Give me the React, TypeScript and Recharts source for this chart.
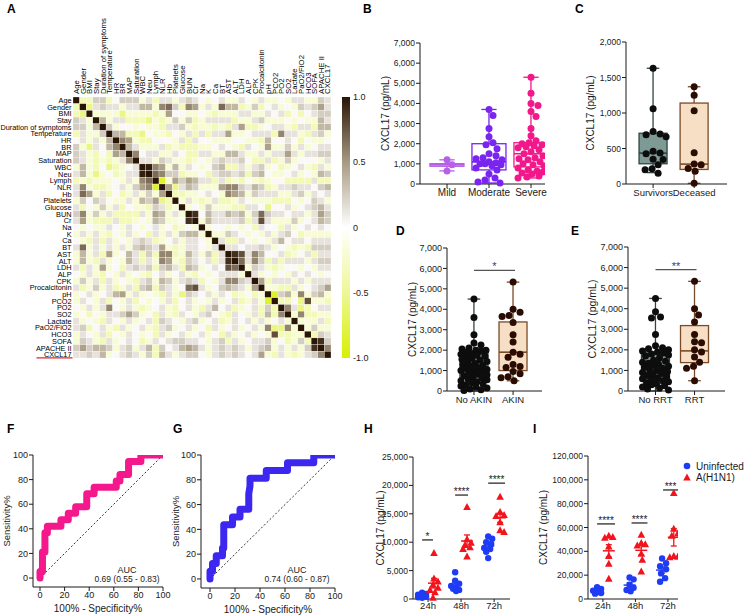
import React from "react";
import {
  ComposedChart,
  ScatterChart,
  BarChart,
  Bar,
  Scatter,
  Line,
  XAxis,
  YAxis,
  ReferenceLine,
  ErrorBar,
  Label,
} from "recharts";

const FONT = "'Liberation Sans', Arial, Helvetica, sans-serif";
const INK = "#1a1a1a";

// ---------- A: correlation heatmap ----------
const HEAT_VARS = [
  "Age", "Gender", "BMI", "Stay", "Duration of symptoms", "Temperature", "HR", "BR", "MAP",
  "Saturation", "WBC", "Neu", "Lymph", "NLR", "Hb", "Platelets", "Glucose", "BUN", "Cr", "Na",
  "K", "Ca", "BT", "AST", "ALT", "LDH", "ALP", "CPK", "Procalcitonin", "pH", "PCO2", "PO2",
  "SO2", "Lactate", "PaO2/FiO2", "HCO3", "SOFA", "APACHE II", "CXCL17",
];
// lower triangle, row i = correlation with columns 0..i-1
// Y strong neg, y neg, l weak neg, p faint neg, 0..9 positive steps
const HEAT_LOWER = [
  "",
  "l",
  "ly",
  "21p",
  "22p3",
  "l1pp2",
  "01p1p3",
  "2py1035",
  "21pl0l43",
  "21plplp15",
  "p3pl0ylp01",
  "13pyp0lp119",
  "lplppp0p1p56",
  "15pllp01p245Y",
  "164p1l0lp1p2p4",
  "p20210pp1p324yl",
  "1l0p2p1l0ppl21lp",
  "25p2p1llll1p43p1p",
  "14plll1llp0p32pp08",
  "0p0pp10p10p01p0lp0p",
  "p1p1pl0p1p0l1p1p233p",
  "0pl1l1p0p121lp01p110p",
  "16p1p1p1p23214plp110p1",
  "p3p1l4p031l2l55lp31p2l1",
  "p3pl1p0p31l1p54pl2101l18",
  "1l1p4p0l1212l231l32p01076",
  "0p1pl0p1p0pl01p01pl0p0111p",
  "p2p1l1p0pl12p32p121l0p15521",
  "1lp2p1lp1l23l21p0671p02321p4",
  "p01p0134p1p0pl1py2101p10lp0lp",
  "p10p1l0p1l0p0p1l01p0p1p01lp1pY",
  "0p1p150p1plp01pl01pl1301lp01l2l",
  "p0l0p11242p0l1pl10p120pl10p1l3l5",
  "1p0pl10p1p01l210p12p01lp101p1p01p",
  "12l01pl1p01pl12p01p0l1p01p01p5yy5p",
  "p10p1l0p10p0l1p01p01p0l1p01p0p7llpp",
  "p21pl1p010lp10122110p12l1p0112p0lp2l",
  "242332p12p13l2013431p12121p123p1p1p28",
  "11213p0121p2l31p1220p12121014pl1plp125",
];
const LEVEL: Record<string, number> = {
  Y: -0.85, y: -0.55, l: -0.35, p: -0.2,
  "0": 0.03, "1": 0.14, "2": 0.25, "3": 0.36, "4": 0.47, "5": 0.58, "6": 0.68, "7": 0.78, "8": 0.9, "9": 0.96,
};
const CB_TICKS = [-1, -0.5, 0, 0.5, 1];

// ---------- B-E: box plots ----------
const B_CATS = ["Mild", "Moderate", "Severe"];
const B_MILD = [1200, 950, 650];
const B_MODERATE = [3700, 3400, 2750, 2350, 2050, 1950, 1750, 1500, 1400, 1300, 1250, 1200, 1100, 1050, 1000, 1000, 950, 900, 800, 700, 500, 300, 200, 100, 50];
const B_SEVERE = [5300, 4500, 4000, 3900, 3600, 3350, 2750, 2400, 2150, 2050, 2000, 1950, 1900, 1850, 1800, 1700, 1600, 1500, 1400, 1300, 1250, 1200, 1100, 1000, 950, 900, 800, 700, 650, 600, 550, 500, 400, 350, 300];
// min, q1, median, q3, max
const B_BOX = [
  [650, 880, 950, 1010, 1200],
  [50, 700, 1100, 2000, 3700],
  [300, 850, 1500, 2050, 5300],
];

const C_CATS = ["Survivors", "Deceased"];
const C_SURVIVORS = [1630, 1060, 740, 705, 695, 665, 460, 435, 425, 350, 345, 270, 215, 200, 150];
const C_DECEASED = [1370, 1250, 1030, 440, 280, 270, 220, 180, 10];
const C_BOX = [
  [160, 285, 435, 715, 1630],
  [10, 205, 280, 1140, 1370],
];

const D_CATS = ["No AKIN", "AKIN"];
const D_NO_AKIN = [4500, 3600, 2750, 2350, 2250, 2100, 2050, 2000, 2000, 1950, 1900, 1850, 1800, 1750, 1700, 1650, 1600, 1550, 1500, 1450, 1400, 1350, 1300, 1250, 1200, 1150, 1100, 1050, 1000, 980, 950, 900, 850, 800, 750, 700, 650, 600, 550, 500, 450, 400, 350, 300, 250, 200, 150, 100, 60, 20];
const D_AKIN = [5330, 4000, 3850, 3700, 3650, 3350, 2750, 2400, 1900, 1800, 1650, 1300, 1200, 1150, 950, 850, 700, 650, 500];
const D_BOX = [
  [0, 650, 1150, 1850, 4500],
  [500, 1000, 1900, 3380, 5330],
];

const E_CATS = ["No RRT", "RRT"];
const E_NO_RRT = [4500, 3850, 3600, 3550, 2750, 2200, 2100, 2050, 2000, 1950, 1900, 1850, 1800, 1750, 1700, 1600, 1500, 1450, 1400, 1350, 1300, 1250, 1200, 1150, 1100, 1050, 1000, 950, 900, 850, 800, 750, 700, 650, 600, 550, 500, 450, 400, 350, 300, 250, 200, 150, 100, 50];
const E_RRT = [5330, 4000, 3700, 3350, 2750, 2400, 2350, 2000, 1900, 1650, 1400, 1200, 1100, 500];
const E_BOX = [
  [0, 530, 1150, 1850, 4500],
  [500, 1380, 1950, 3180, 5330],
];

const Y7000 = [0, 1000, 2000, 3000, 4000, 5000, 6000, 7000];
const Y2000 = [0, 500, 1000, 1500, 2000];

// ---------- F, G: ROC ----------
const F_FPR = [0, 0, 2, 2, 2, 2, 4, 4, 4, 4, 6, 6, 17, 17, 23, 23, 29, 29, 38, 38, 38, 44, 44, 62, 62, 65, 65, 72, 72, 72, 82, 82, 100];
const F_TPR = [0, 5.3, 5.3, 10.5, 15.8, 21.1, 21.1, 26.3, 31.6, 36.8, 36.8, 42.1, 42.1, 47.4, 47.4, 52.6, 52.6, 57.9, 57.9, 63.2, 68.4, 68.4, 73.7, 73.7, 78.9, 78.9, 84.2, 84.2, 89.5, 94.7, 94.7, 100, 100];
const G_FPR = [0, 0, 2, 2, 5, 5, 10, 10, 11, 11, 11, 11, 18, 18, 24, 24, 31, 31, 31, 32, 32, 45, 45, 62, 62, 83, 83, 100];
const G_TPR = [0, 6.25, 6.25, 12.5, 12.5, 18.75, 18.75, 25, 25, 31.25, 37.5, 43.75, 43.75, 50, 50, 56.25, 56.25, 62.5, 68.75, 75, 81.25, 81.25, 87.5, 87.5, 93.75, 93.75, 100, 100];
const ROC_TICKS = [0, 20, 40, 60, 80, 100];

// ---------- H, I: time course ----------
const TIME_LABELS = ["24h", "48h", "72h"];
const H_UNINFECTED = [
  [1100, 900, 750, 600, 500, 400, 300, 200],
  [4700, 3200, 2700, 2300, 2000, 1800, 1600, 1400],
  [11000, 10600, 10000, 9700, 9000, 8800, 8300, 7200],
];
const H_H1N1 = [
  [8100, 3600, 3100, 2500, 2000, 1600, 1200, 200],
  [16200, 10500, 9900, 9500, 9100, 8800, 7500],
  [18000, 15300, 14800, 14600, 13500, 12100, 11800],
];
const I_UNINFECTED = [
  [10000, 8500, 7000, 6000, 5000, 4500],
  [18000, 16500, 12000, 9500, 7500, 6500],
  [34000, 30000, 27500, 25000, 21500, 17500, 14500],
];
const I_H1N1 = [
  [53000, 52000, 51500, 44000, 36000, 29500, 17000],
  [54000, 47000, 46000, 45000, 38000, 33000, 23000],
  [89000, 59000, 55000, 53000, 36000, 35500, 35000],
];
const H_TICKS = [0, 5000, 10000, 15000, 20000, 25000];
const I_TICKS = [0, 20000, 40000, 60000, 80000, 100000, 120000];
const H_SIG = [
  { a: -0.18, b: 0.15, y: 10400, text: "*" },
  { a: 0.82, b: 1.21, y: 18300, text: "****" },
  { a: 1.82, b: 2.33, y: 20400, text: "****" },
];
const I_SIG = [
  { a: -0.18, b: 0.37, y: 63000, text: "****" },
  { a: 0.88, b: 1.37, y: 63800, text: "****" },
  { a: 1.85, b: 2.31, y: 91500, text: "***" },
];

// ---------- helpers ----------
const fmt = (v: number) => v.toLocaleString("en-US");

const CORR_STOPS: [number, number[]][] = [
  [-1, [214, 241, 0]],
  [-0.5, [238, 247, 150]],
  [0, [255, 255, 255]],
  [0.5, [168, 155, 130]],
  [1, [42, 20, 4]],
];
function corrColor(v: number) {
  for (let i = 0; i < CORR_STOPS.length - 1; i++) {
    const [a, ca] = CORR_STOPS[i];
    const [b, cb] = CORR_STOPS[i + 1];
    if (v <= b || i === CORR_STOPS.length - 2) {
      const t = Math.max(0, Math.min(1, (v - a) / (b - a)));
      const c = ca.map((x, k) => Math.round(x + (cb[k] - x) * t));
      return `rgb(${c[0]},${c[1]},${c[2]})`;
    }
  }
  return "#fff";
}

// beeswarm-style horizontal placement, returns offsets in axis units
function swarm(values: number[], pxV: number, pxP: number, d: number, maxHalf: number) {
  const order = values.map((_, i) => i).sort((a, b) => values[b] - values[a]);
  const placed: { x: number; y: number }[] = [];
  const offs = new Array(values.length).fill(0);
  const cands = [0];
  for (let k = 1; k <= maxHalf; k++) cands.push(k, -k);
  for (const i of order) {
    const y = values[i] * pxV;
    let best = 0;
    let bestScore = -1;
    for (const c of cands) {
      let minD = Infinity;
      for (const p of placed) minD = Math.min(minD, Math.hypot(p.x - c, p.y - y));
      if (minD >= d) {
        best = c;
        break;
      }
      if (minD > bestScore) {
        bestScore = minD;
        best = c;
      }
    }
    placed.push({ x: best, y });
    offs[i] = best / pxP;
  }
  return offs;
}

const mean = (a: number[]) => a.reduce((s, v) => s + v, 0) / a.length;
const sem = (a: number[]) => {
  const m = mean(a);
  const sd = Math.sqrt(a.reduce((s, v) => s + (v - m) ** 2, 0) / (a.length - 1));
  return sd / Math.sqrt(a.length);
};

// ---------- heatmap ----------
const NV = HEAT_VARS.length;
const HEAT_W = 258;
const HEAT_H = 261;
const CW = HEAT_W / NV;
const CH = HEAT_H / NV;
const IDX = HEAT_VARS.map((_, i) => i);

const heatCells = (() => {
  const m = HEAT_VARS.map(() => HEAT_VARS.map(() => 0));
  for (let i = 0; i < NV; i++) {
    m[i][i] = 1;
    const row = HEAT_LOWER[i] || "";
    for (let j = 0; j < i; j++) {
      const v = LEVEL[row[j]] ?? 0;
      m[i][j] = v;
      m[j][i] = v;
    }
  }
  const cells: { c: number; r: number; v: number }[] = [];
  for (let r = 0; r < NV; r++) for (let c = 0; c < NV; c++) cells.push({ c, r, v: m[r][c] });
  return cells;
})();

const HeatCell = (p: any) => {
  const v = p.payload?.v ?? p.v ?? 0;
  return (
    <rect
      x={p.cx - CW / 2}
      y={p.cy - CH / 2}
      width={CW}
      height={CH}
      fill={corrColor(v)}
      stroke="#ffffff"
      strokeWidth={0.25}
    />
  );
};

const ColTick = (p: any) => (
  <g transform={`translate(${p.x},${p.y})`}>
    <text transform="rotate(-90)" dy="0.35em" fontSize={7.8} fill="#000" stroke="none" textAnchor="start">
      {HEAT_VARS[p.payload.value]}
    </text>
  </g>
);

const RowTick = (p: any) => (
  <g>
    <text x={p.x} y={p.y} dy="0.35em" fontSize={7.3} fill="#000" stroke="none" textAnchor="end">
      {HEAT_VARS[p.payload.value]}
    </text>
    {p.payload.value === NV - 1 && (
      <line x1={p.x - 35} x2={p.x + 1} y1={p.y + 3.3} y2={p.y + 3.3} stroke="#e8222a" strokeWidth={1.3} />
    )}
  </g>
);

function Heatmap() {
  return (
    <div style={{ position: "absolute", left: 0, top: 0 }}>
      <ScatterChart width={73 + HEAT_W + 4} height={97 + HEAT_H + 6} margin={{ top: 0, right: 4, bottom: 6, left: 0 }}>
        <XAxis
          type="number"
          dataKey="c"
          orientation="top"
          domain={[-0.5, NV - 0.5]}
          ticks={IDX}
          interval={0}
          height={97}
          axisLine={false}
          tickLine={false}
          tickSize={0}
          tickMargin={3}
          tick={(p: any) => <ColTick {...p} />}
        />
        <YAxis
          type="number"
          dataKey="r"
          domain={[-0.5, NV - 0.5]}
          reversed
          ticks={IDX}
          interval={0}
          width={73}
          axisLine={false}
          tickLine={false}
          tickSize={0}
          tickMargin={1.5}
          tick={(p: any) => <RowTick {...p} />}
        />
        <Scatter data={heatCells} shape={HeatCell} isAnimationActive={false} />
      </ScatterChart>
    </div>
  );
}

function ColorBar() {
  const stops = [1, 0.5, 0, -0.5, -1];
  return (
    <div style={{ position: "absolute", left: 342, top: 90 }}>
      <BarChart width={38} height={275} data={[{ k: "cb", r: [-1, 1] }]} margin={{ top: 7, right: 0, bottom: 7, left: 0 }} barCategoryGap={0}>
        <defs>
          <linearGradient id="cbGrad" x1="0" y1="0" x2="0" y2="1">
            {stops.map((v, i) => (
              <stop key={i} offset={`${(i / (stops.length - 1)) * 100}%`} stopColor={corrColor(v)} />
            ))}
          </linearGradient>
        </defs>
        <XAxis dataKey="k" hide />
        <YAxis
          orientation="right"
          type="number"
          domain={[-1, 1]}
          ticks={CB_TICKS}
          interval={0}
          width={30}
          axisLine={false}
          tickLine={false}
          tickSize={0}
          tickMargin={3}
          tick={{ fontSize: 9, fill: INK }}
          tickFormatter={(v: number) => (v === 0 ? "0" : v.toFixed(1))}
        />
        <Bar dataKey="r" fill="url(#cbGrad)" isAnimationActive={false} />
      </BarChart>
    </div>
  );
}

// ---------- box panels ----------
type BoxGroup = { values: number[]; box: number[]; fill: string; stroke: string; dot: string };

const BoxShape = (props: any) => {
  const { x, y, width, height } = props;
  const g = props.payload ?? props;
  const [lo, q1, med, q3, hi] = g.box;
  if (!(height > 0)) return <g />;
  const k = height / (hi - lo);
  const yv = (v: number) => y + (hi - v) * k;
  const cx = x + (width || 0) / 2;
  const half = g.boxW / 2;
  const cap = g.boxW * 0.45;
  return (
    <g>
      <line x1={cx} x2={cx} y1={yv(hi)} y2={yv(lo)} stroke={g.stroke} strokeWidth={1.3} />
      <line x1={cx - cap / 2} x2={cx + cap / 2} y1={yv(hi)} y2={yv(hi)} stroke={g.stroke} strokeWidth={1.3} />
      <line x1={cx - cap / 2} x2={cx + cap / 2} y1={yv(lo)} y2={yv(lo)} stroke={g.stroke} strokeWidth={1.3} />
      <rect x={cx - half} y={yv(q3)} width={g.boxW} height={Math.max(1, yv(q1) - yv(q3))} fill={g.fill} stroke={g.stroke} strokeWidth={1.3} />
      <line x1={cx - half} x2={cx + half} y1={yv(med)} y2={yv(med)} stroke={g.stroke} strokeWidth={1.6} />
    </g>
  );
};

function BoxPanel(props: {
  left: number; top: number; yAxisW: number; marginTop: number; plotW: number; plotH: number;
  xDom: [number, number]; yMax: number; yTicks: number[]; cats: string[]; groups: BoxGroup[];
  boxW: number; labelOffset: number; tickFont: number; catFont: number; titleFont: number;
  sig?: { a: number; b: number; y: number; text: string };
}) {
  const { left, top, yAxisW, marginTop, plotW, plotH, xDom, yMax, yTicks, cats, groups } = props;
  const pxV = plotH / yMax;
  const pxP = plotW / (xDom[1] - xDom[0]);
  const rows = groups.map((g, i) => ({
    pos: i, range: [g.box[0], g.box[4]], box: g.box, fill: g.fill, stroke: g.stroke, boxW: props.boxW,
  }));
  const pts = groups.map((g, i) => {
    const offs = swarm(g.values, pxV, pxP, 7, 13);
    return g.values.map((v, k) => ({ pos: i + offs[k], val: v }));
  });
  return (
    <div style={{ position: "absolute", left, top }}>
      <ComposedChart
        width={yAxisW + plotW + 5}
        height={marginTop + plotH + 20}
        data={rows}
        margin={{ top: marginTop, right: 5, bottom: 0, left: 0 }}
      >
        <XAxis
          type="number"
          dataKey="pos"
          domain={xDom}
          allowDataOverflow
          ticks={cats.map((_, i) => i)}
          interval={0}
          tickFormatter={(v: number) => cats[v] ?? ""}
          height={20}
          tickSize={4}
          tickMargin={1}
          stroke={INK}
          tick={{ fontSize: props.catFont, fill: INK }}
        />
        <YAxis
          type="number"
          dataKey="val"
          domain={[0, yMax]}
          ticks={yTicks}
          interval={0}
          tickFormatter={fmt}
          width={yAxisW}
          tickSize={4}
          tickMargin={1}
          stroke={INK}
          tick={{ fontSize: props.tickFont, fill: INK }}
        >
          <Label
            value="CXCL17 (pg/mL)"
            angle={-90}
            position="insideLeft"
            offset={props.labelOffset}
            style={{ textAnchor: "middle", fontSize: props.titleFont, fill: INK }}
          />
        </YAxis>
        <Bar dataKey="range" barSize={props.boxW} shape={BoxShape} isAnimationActive={false} />
        {groups.map((g, i) => (
          <Scatter
            key={i}
            data={pts[i]}
            isAnimationActive={false}
            shape={(p: any) => <circle cx={p.cx} cy={p.cy} r={3.5} fill={g.dot} />}
          />
        ))}
        {props.sig && (
          <ReferenceLine
            segment={[{ x: props.sig.a, y: props.sig.y }, { x: props.sig.b, y: props.sig.y }]}
            stroke="#555"
            strokeWidth={1.2}
            ifOverflow="visible"
            label={{ value: props.sig.text, position: "top", offset: 0, fontSize: 11, fill: "#444" }}
          />
        )}
      </ComposedChart>
    </div>
  );
}

// ---------- ROC panels ----------
function RocPanel(props: {
  left: number; top: number; plotW: number; plotH: number; xDom: [number, number]; yDom: [number, number];
  fpr: number[]; tpr: number[]; color: string; labelOffset: number;
}) {
  const data = props.fpr.map((x, i) => ({ fpr: x, tpr: props.tpr[i] }));
  const diag = [{ fpr: 0, tpr: 0 }, { fpr: 100, tpr: 100 }];
  return (
    <div style={{ position: "absolute", left: props.left, top: props.top }}>
      <ComposedChart width={33 + props.plotW + 12} height={10 + props.plotH + 28} margin={{ top: 10, right: 12, bottom: 0, left: 0 }}>
        <XAxis
          type="number"
          dataKey="fpr"
          domain={props.xDom}
          allowDataOverflow
          ticks={ROC_TICKS}
          interval={0}
          height={28}
          tickSize={4}
          tickMargin={1}
          stroke={INK}
          tick={{ fontSize: 9, fill: INK }}
        >
          <Label value="100% - Specificity%" position="insideBottom" offset={3} style={{ fontSize: 10, fill: INK }} />
        </XAxis>
        <YAxis
          type="number"
          domain={props.yDom}
          allowDataOverflow
          ticks={ROC_TICKS}
          interval={0}
          width={33}
          tickSize={4}
          tickMargin={1}
          stroke={INK}
          tick={{ fontSize: 9, fill: INK }}
        >
          <Label
            value="Sensitivity%"
            angle={-90}
            position="insideLeft"
            offset={props.labelOffset}
            style={{ textAnchor: "middle", fontSize: 9.5, fill: INK }}
          />
        </YAxis>
        <Line data={diag} dataKey="tpr" stroke="#333" strokeWidth={1} strokeDasharray="2 2" dot={false} isAnimationActive={false} />
        <Line
          data={data}
          dataKey="tpr"
          stroke={props.color}
          strokeWidth={7}
          strokeLinecap="round"
          strokeLinejoin="round"
          dot={false}
          isAnimationActive={false}
        />
      </ComposedChart>
    </div>
  );
}

// ---------- time course panels ----------
const BLUE = "#1f3cf5";
const RED = "#f2141c";
const GROUP_OFF = 0.18;

const Tri = (p: any) => (
  <polygon points={`${p.cx},${p.cy - 4} ${p.cx - 3.8},${p.cy + 3} ${p.cx + 3.8},${p.cy + 3}`} fill={RED} />
);
const meanLine = (color: string) => (p: any) => (
  <line x1={p.cx - 6} x2={p.cx + 6} y1={p.cy} y2={p.cy} stroke={color} strokeWidth={1.5} />
);

function TimePanel(props: {
  left: number; top: number; marginTop: number; plotW: number; plotH: number; xDom: [number, number];
  yMax: number; yTicks: number[]; uninf: number[][]; h1n1: number[][];
  sigs: { a: number; b: number; y: number; text: string }[]; labelOffset: number;
}) {
  const yAxisW = 68;
  const pxV = props.plotH / props.yMax;
  const pxP = props.plotW / (props.xDom[1] - props.xDom[0]);
  const bluePts: any[] = [];
  const redPts: any[] = [];
  const blueMean: any[] = [];
  const redMean: any[] = [];
  props.uninf.forEach((vals, i) => {
    const offs = swarm(vals, pxV, pxP, 6, 4);
    vals.forEach((v, k) => bluePts.push({ pos: i - GROUP_OFF + offs[k], val: v }));
    blueMean.push({ pos: i - GROUP_OFF, val: mean(vals), sem: sem(vals) });
  });
  props.h1n1.forEach((vals, i) => {
    const offs = swarm(vals, pxV, pxP, 6, 4);
    vals.forEach((v, k) => redPts.push({ pos: i + GROUP_OFF + offs[k], val: v }));
    redMean.push({ pos: i + GROUP_OFF, val: mean(vals), sem: sem(vals) });
  });
  return (
    <div style={{ position: "absolute", left: props.left, top: props.top }}>
      <ComposedChart
        width={yAxisW + props.plotW + 5}
        height={props.marginTop + props.plotH + 16}
        margin={{ top: props.marginTop, right: 5, bottom: 0, left: 0 }}
      >
        <XAxis
          type="number"
          dataKey="pos"
          domain={props.xDom}
          allowDataOverflow
          ticks={[0, 1, 2]}
          interval={0}
          tickFormatter={(v: number) => TIME_LABELS[v] ?? ""}
          height={16}
          tickSize={3}
          tickMargin={0}
          stroke={INK}
          tick={{ fontSize: 9.5, fill: INK }}
        />
        <YAxis
          type="number"
          dataKey="val"
          domain={[0, props.yMax]}
          ticks={props.yTicks}
          interval={0}
          tickFormatter={fmt}
          width={yAxisW}
          tickSize={4}
          tickMargin={1}
          stroke={INK}
          tick={{ fontSize: 8.5, fill: INK }}
        >
          <Label
            value="CXCL17 (pg/mL)"
            angle={-90}
            position="insideLeft"
            offset={props.labelOffset}
            style={{ textAnchor: "middle", fontSize: 10, fill: INK }}
          />
        </YAxis>
        <Scatter data={bluePts} isAnimationActive={false} shape={(p: any) => <circle cx={p.cx} cy={p.cy} r={3.2} fill={BLUE} />} />
        <Scatter data={redPts} isAnimationActive={false} shape={Tri} />
        <Scatter data={blueMean} isAnimationActive={false} shape={meanLine(BLUE)}>
          <ErrorBar dataKey="sem" direction="y" width={3} stroke={BLUE} strokeWidth={1.3} />
        </Scatter>
        <Scatter data={redMean} isAnimationActive={false} shape={meanLine(RED)}>
          <ErrorBar dataKey="sem" direction="y" width={3} stroke={RED} strokeWidth={1.3} />
        </Scatter>
        {props.sigs.map((s, i) => (
          <ReferenceLine
            key={i}
            segment={[{ x: s.a, y: s.y }, { x: s.b, y: s.y }]}
            stroke={INK}
            strokeWidth={1.2}
            ifOverflow="visible"
            label={{ value: s.text, position: "top", offset: 0, fontSize: 10, fill: INK }}
          />
        ))}
      </ComposedChart>
    </div>
  );
}

// ---------- overlay: panel letters, AUC, legend ----------
function Overlay() {
  const letters: [string, number, number][] = [
    ["A", 7, 13], ["B", 363, 13], ["C", 575, 13], ["D", 396, 235], ["E", 571, 235],
    ["F", 7, 433], ["G", 173, 433], ["H", 364, 433], ["I", 533, 433],
  ];
  return (
    <svg width={750} height={615} style={{ position: "absolute", left: 0, top: 0, pointerEvents: "none" }}>
      {letters.map(([t, x, y]) => (
        <text key={t} x={x} y={y} fontSize={12} fontWeight="bold" fill="#000" fontFamily={FONT}>
          {t}
        </text>
      ))}
      <g fontFamily={FONT} fill={INK} textAnchor="middle">
        <text x={127} y={572.5} fontSize={9}>AUC</text>
        <text x={127} y={582} fontSize={8.5} textLength={65} lengthAdjust="spacingAndGlyphs">0.69 (0.55 - 0.83)</text>
        <text x={297} y={572.5} fontSize={9}>AUC</text>
        <text x={297} y={582} fontSize={8.5} textLength={65} lengthAdjust="spacingAndGlyphs">0.74 (0.60 - 0.87)</text>
      </g>
      <circle cx={687} cy={466} r={3.3} fill={BLUE} />
      <polygon points="687,473.5 683.2,480.5 690.8,480.5" fill={RED} />
      <g fontFamily={FONT} fill={INK} fontSize={10}>
        <text x={696} y={469.5}>Uninfected</text>
        <text x={696} y={481}>A(H1N1)</text>
      </g>
    </svg>
  );
}

export default function App() {
  const boxFillA = "#7d9a94";
  const boxStrokeA = "#2e4642";
  const boxFillB = "#f6dfc5";
  const boxStrokeB = "#7a4b27";
  return (
    <div
      style={{
        position: "absolute",
        left: 0,
        top: 0,
        width: 750,
        height: 615,
        background: "#fff",
        fontFamily: FONT,
        overflow: "hidden",
      }}
    >
      <Heatmap />
      <ColorBar />
      <BoxPanel
        left={360} top={30} yAxisW={60} marginTop={13} plotW={125} plotH={141}
        xDom={[-0.643, 2.333]} yMax={7000} yTicks={Y7000} cats={B_CATS}
        groups={[
          { values: B_MILD, box: B_BOX[0], fill: "#ffffff", stroke: "#b660e8", dot: "#b660e8" },
          { values: B_MODERATE, box: B_BOX[1], fill: "#ffffff", stroke: "#7a24ef", dot: "#7a24ef" },
          { values: B_SEVERE, box: B_BOX[2], fill: "#ffffff", stroke: "#f2178b", dot: "#f2178b" },
        ]}
        boxW={34} labelOffset={25} tickFont={8.5} catFont={10} titleFont={10}
      />
      <BoxPanel
        left={560} top={30} yAxisW={66} marginTop={12} plotW={101} plotH={142}
        xDom={[-0.66, 1.8]} yMax={2000} yTicks={Y2000} cats={C_CATS}
        groups={[
          { values: C_SURVIVORS, box: C_BOX[0], fill: boxFillA, stroke: boxStrokeA, dot: "#0d0d0d" },
          { values: C_DECEASED, box: C_BOX[1], fill: boxFillB, stroke: boxStrokeB, dot: "#2a0c02" },
        ]}
        boxW={28} labelOffset={30} tickFont={8.5} catFont={9.5} titleFont={10}
      />
      <BoxPanel
        left={380} top={235} yAxisW={67} marginTop={13} plotW={95} plotH={143}
        xDom={[-0.69, 1.74]} yMax={7000} yTicks={Y7000} cats={D_CATS}
        groups={[
          { values: D_NO_AKIN, box: D_BOX[0], fill: boxFillA, stroke: boxStrokeA, dot: "#0d0d0d" },
          { values: D_AKIN, box: D_BOX[1], fill: boxFillB, stroke: boxStrokeB, dot: "#2a0c02" },
        ]}
        boxW={28} labelOffset={32} tickFont={9} catFont={9.5} titleFont={10}
        sig={{ a: 0, b: 1.05, y: 5900, text: "*" }}
      />
      <BoxPanel
        left={560} top={235} yAxisW={68} marginTop={12} plotW={97} plotH={144}
        xDom={[-0.705, 1.78]} yMax={7000} yTicks={Y7000} cats={E_CATS}
        groups={[
          { values: E_NO_RRT, box: E_BOX[0], fill: boxFillA, stroke: boxStrokeA, dot: "#0d0d0d" },
          { values: E_RRT, box: E_BOX[1], fill: boxFillB, stroke: boxStrokeB, dot: "#2a0c02" },
        ]}
        boxW={28} labelOffset={32} tickFont={9} catFont={9.5} titleFont={10.5}
        sig={{ a: 0, b: 1.05, y: 5900, text: "**" }}
      />
      <RocPanel
        left={0} top={445} plotW={130} plotH={132} xDom={[-5.7, 100]} yDom={[-7.3, 100]}
        fpr={F_FPR} tpr={F_TPR} color="#f5178c" labelOffset={6.5}
      />
      <RocPanel
        left={168} top={445} plotW={134} plotH={133} xDom={[-7.2, 100]} yDom={[-7.3, 100]}
        fpr={G_FPR} tpr={G_TPR} color="#3b27ef" labelOffset={8}
      />
      <TimePanel
        left={345} top={445} marginTop={12} plotW={97} plotH={142} xDom={[-0.455, 2.48]}
        yMax={25000} yTicks={H_TICKS} uninf={H_UNINFECTED} h1n1={H_H1N1} sigs={H_SIG} labelOffset={35}
      />
      <TimePanel
        left={520} top={445} marginTop={11} plotW={90} plotH={143} xDom={[-0.46, 2.31]}
        yMax={120000} yTicks={I_TICKS} uninf={I_UNINFECTED} h1n1={I_H1N1} sigs={I_SIG} labelOffset={23}
      />
      <Overlay />
    </div>
  );
}
